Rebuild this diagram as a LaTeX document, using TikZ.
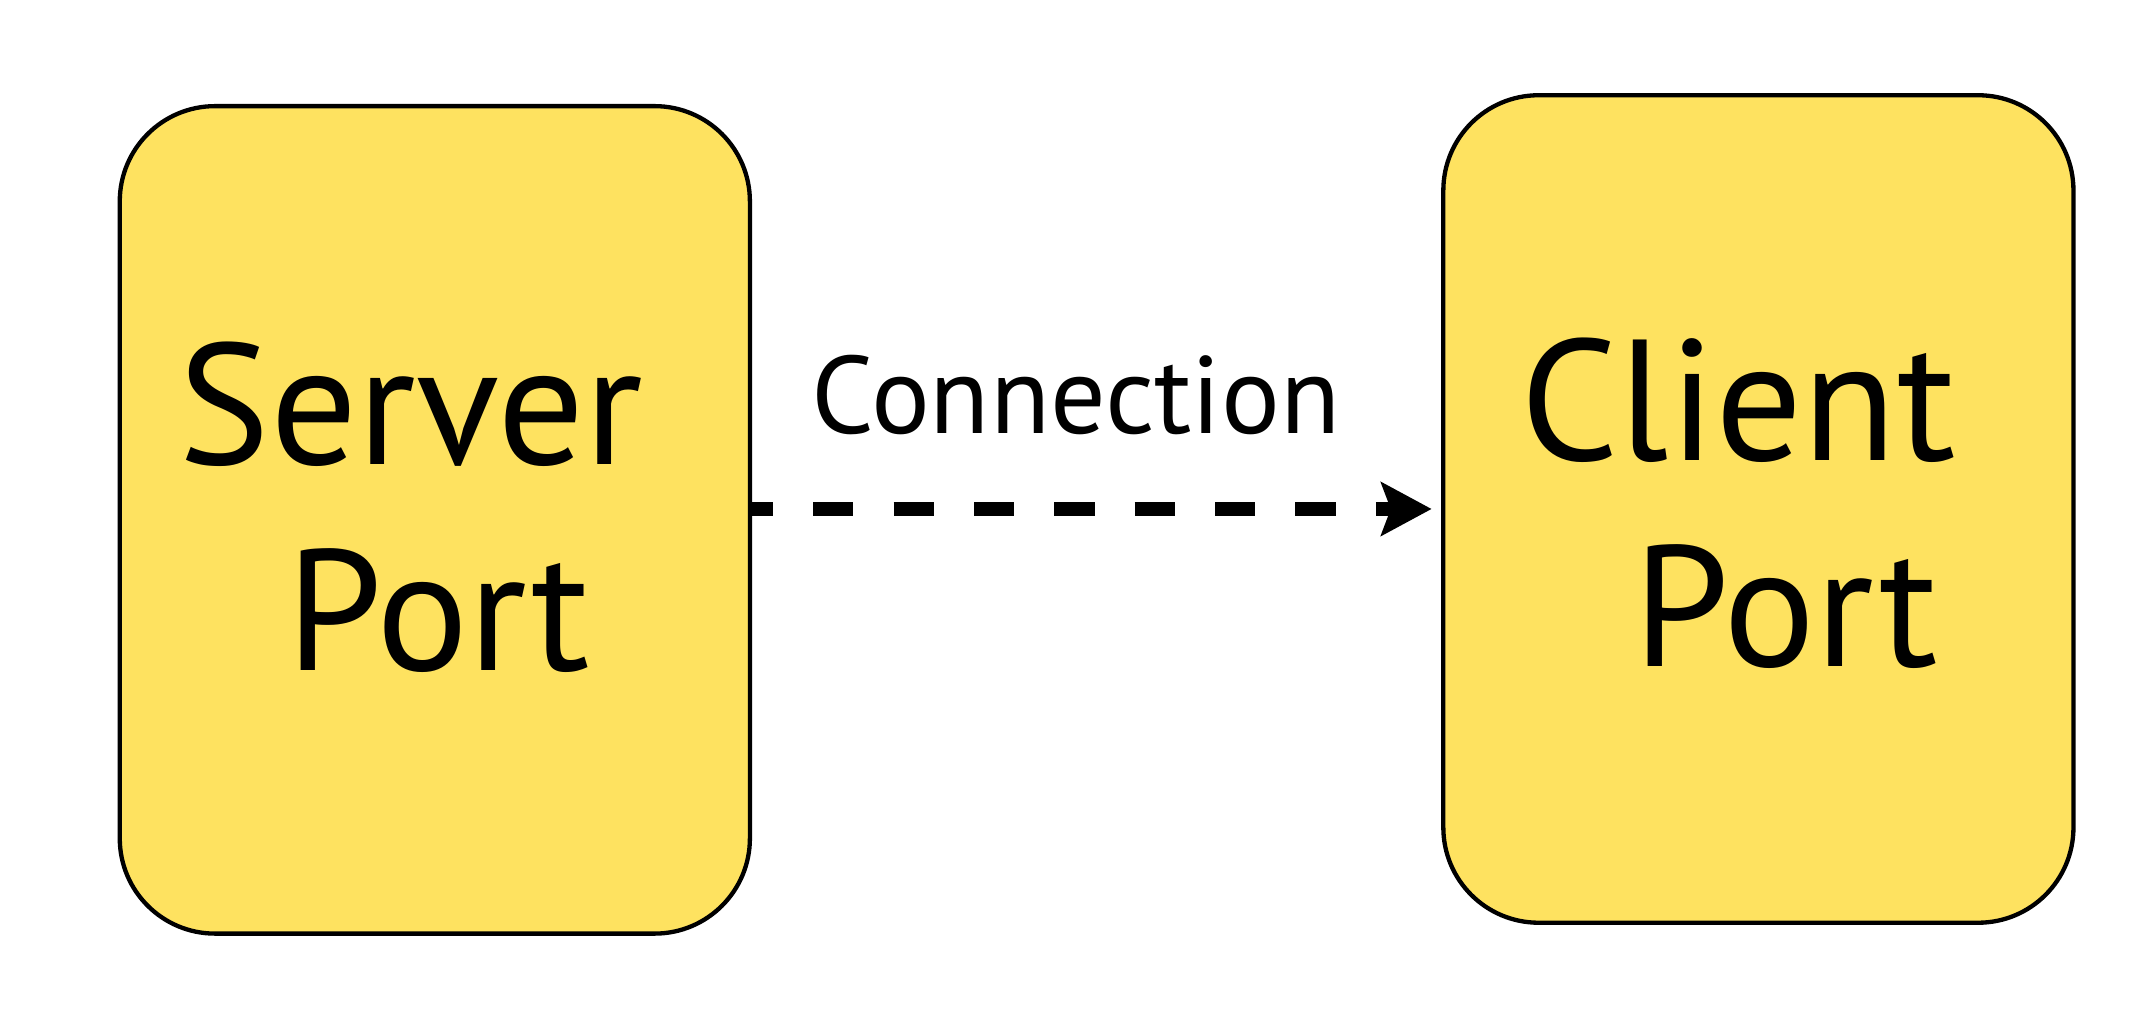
\documentclass[tikz,border=0pt]{standalone}
\usepackage{fontspec}
\setmainfont{PT Sans}
\usetikzlibrary{arrows.meta}
\definecolor{portyellow}{RGB}{254,226,96}

\begin{document}
\begin{tikzpicture}[
  port/.style={draw=black, line width=0.9pt, fill=portyellow, rounded corners=0.7cm,
    minimum width=4.63cm, minimum height=6.08cm, align=center,
    font=\fontsize{36}{43}\selectfont, inner sep=0pt},
  conn/.style={line width=2.85pt, dash pattern=on 8.4pt off 8.4pt, dash phase=4pt,
    shorten >=0.7mm, -{Stealth[length=3.7mm,width=3.9mm,inset=0.7mm]}}
]
\useasboundingbox (0,0) rectangle (15.68,7.473);

\coordinate (S) at (3.195,3.653);
\coordinate (C) at (12.92,3.733);

\node [port, text depth=0.2cm] (server) at (S) {Server\hspace*{0.35cm}\\\hspace*{0.05cm}Port};
\node [port, text depth=0.1cm] (client) at (C) {Client\hspace*{0.3cm}\\\hspace*{0.4cm}Port};

\draw [conn] (server.east |- client.west) -- (client.west)
  node [midway, above=0.38cm, xshift=-0.15cm, font=\fontsize{23}{27}\selectfont] (label) {Connection};
\end{tikzpicture}
\end{document}
